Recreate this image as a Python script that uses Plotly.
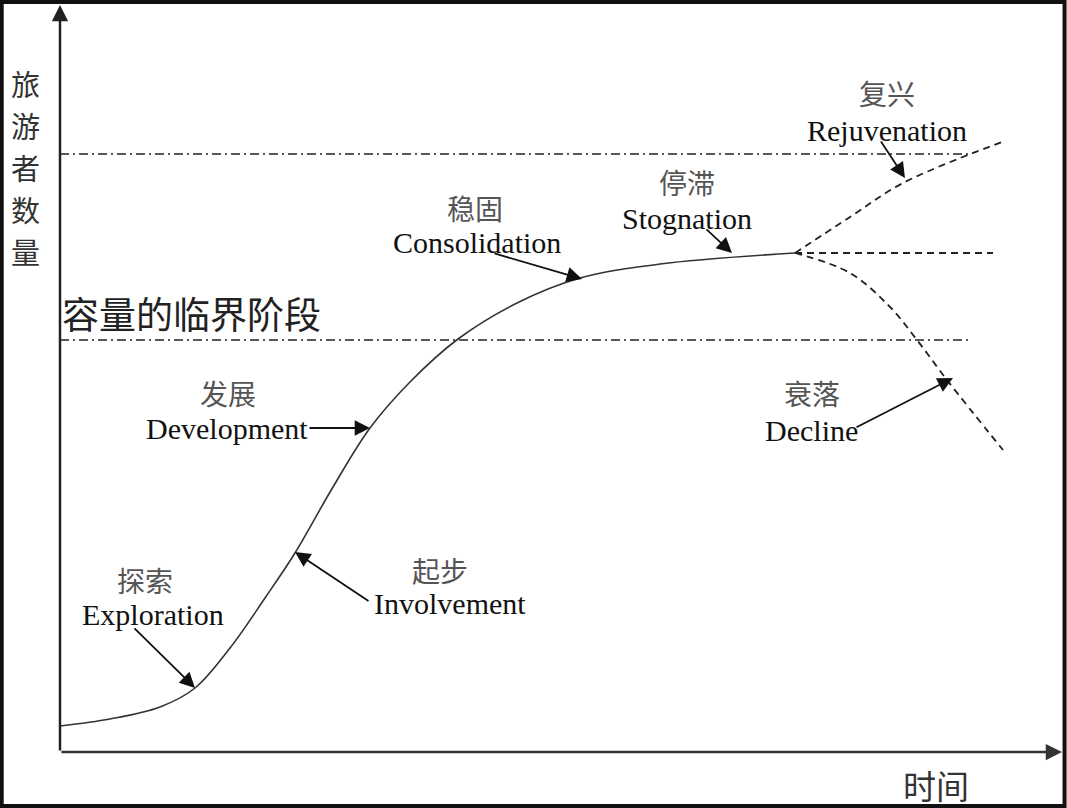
import plotly.graph_objects as go

# ---- data (time on x, number of tourists on y; arbitrary units) ----
curve_x = [0, 50, 100, 135, 170, 205, 235, 273, 310, 350, 398, 457, 520, 600, 735]
curve_y = [26, 33, 45, 64, 104, 154, 199, 265, 324, 370, 413, 449, 474, 488, 499]

rejuv_x = [735, 790, 843, 942]
rejuv_y = [499, 535, 569, 610]

stable_x = [735, 933]
stable_y = [499, 499]

decline_x = [735, 790, 830, 857, 887, 943]
decline_y = [499, 479, 445, 412, 372, 302]

capacity_levels = [598, 412]
capacity_x_end = 912

axis_x_end = 1002
axis_y_end = 747

stage_zh = ["探索", "起步", "发展", "稳固", "停滞", "复兴", "衰落"]
stage_en = ["Exploration", "Involvement", "Development", "Consolidation", "Stognation", "Rejuvenation", "Decline"]
zh_pos = [(85, 172), (380, 182), (168, 359), (415, 544), (627, 570), (827, 659), (752, 359)]
en_pos = [(93, 138), (390, 149), (167, 324), (417, 510), (627, 534), (827, 622), (751, 322)]
arrow_tail = [(73, 125), (310, 150), (248, 324), (433, 499), (645, 524), (820, 612), (795, 324)]
arrow_head = [(135, 64), (235, 200), (310, 324), (522, 473), (672, 499), (845, 574), (893, 374)]

y_title = "旅游者数量"
x_title = "时间"
capacity_label = "容量的临界阶段"

SERIF = "Liberation Serif, Times New Roman, serif"
CJK = "Noto Sans CJK SC"

fig = go.Figure()

fig.add_trace(go.Scatter(x=curve_x, y=curve_y, mode="lines", line=dict(color="#333", width=1.6, shape="spline", smoothing=1.0), hoverinfo="skip"))
for bx, by in [(rejuv_x, rejuv_y), (stable_x, stable_y), (decline_x, decline_y)]:
    fig.add_trace(go.Scatter(x=bx, y=by, mode="lines", line=dict(color="#222", width=1.8, dash="7px,5px", shape="spline"), hoverinfo="skip"))
for lvl in capacity_levels:
    fig.add_trace(go.Scatter(x=[0, capacity_x_end], y=[lvl, lvl], mode="lines", line=dict(color="#222", width=1.6, dash="9px,4px,2px,4px"), hoverinfo="skip"))

ann = []
# axes with arrowheads
ann.append(dict(x=0, y=axis_y_end, ax=0, ay=0, xref="x", yref="y", axref="x", ayref="y", text="", showarrow=True, arrowhead=2, arrowsize=1.3, arrowwidth=2.5, arrowcolor="#222", standoff=0))
ann.append(dict(x=axis_x_end, y=0, ax=0, ay=0, xref="x", yref="y", axref="x", ayref="y", text="", showarrow=True, arrowhead=2, arrowsize=1.3, arrowwidth=2.5, arrowcolor="#333", standoff=0))

for (hx, hy), (tx, ty) in zip(arrow_head, arrow_tail):
    ann.append(dict(x=hx, y=hy, ax=tx, ay=ty, xref="x", yref="y", axref="x", ayref="y", text="", showarrow=True, arrowhead=2, arrowsize=1.7, arrowwidth=1.8, arrowcolor="#111", standoff=0))

for t, (x, y) in zip(stage_zh, zh_pos):
    ann.append(dict(x=x, y=y, text=t, showarrow=False, font=dict(family=CJK, size=28, color="#555")))
for t, (x, y) in zip(stage_en, en_pos):
    ann.append(dict(x=x, y=y, text=t, showarrow=False, font=dict(family=SERIF, size=30, color="#111")))

# vertical y title, one character per line
for i, ch in enumerate(y_title):
    ann.append(dict(x=-35, y=669 - i * 42, text=ch, showarrow=False, font=dict(family=CJK, size=29, color="#333")))

ann.append(dict(x=0, y=439, text=capacity_label, showarrow=False, xanchor="left", font=dict(family=CJK, size=37, color="#222")))
ann.append(dict(x=876, y=-33, text=x_title, showarrow=False, font=dict(family=CJK, size=33, color="#333")))

fig.update_layout(
    width=1067, height=808,
    margin=dict(l=0, r=0, t=0, b=0),
    paper_bgcolor="white", plot_bgcolor="white",
    showlegend=False,
    xaxis=dict(range=[-60, 1007], visible=False, fixedrange=True),
    yaxis=dict(range=[-56, 752], visible=False, fixedrange=True),
    annotations=ann,
    shapes=[dict(type="rect", xref="paper", yref="paper", x0=0.0016, x1=0.9977, y0=0.0025, y1=0.9975, line=dict(color="#111", width=4))],
)

fig.write_html("out.html", config={"displayModeBar": False},
               post_script="document.body.style.margin='0';document.body.style.overflow='hidden';")
